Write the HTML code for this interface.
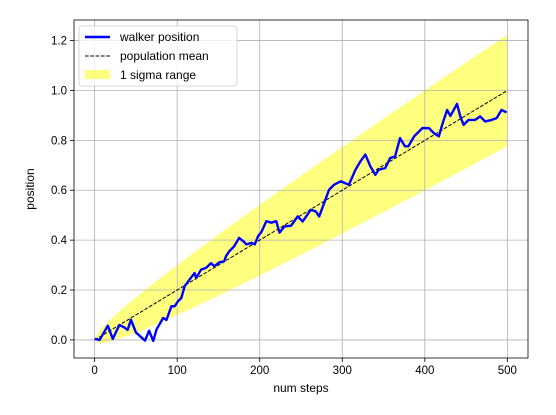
<!DOCTYPE html>
<html><head><meta charset="utf-8"><style>
html,body{margin:0;padding:0;background:#fff;}
svg{display:block;font-family:"Liberation Sans","DejaVu Sans",sans-serif;}
</style></head><body>
<svg id="chart" width="556" height="415" viewBox="0 0 556 415" xmlns="http://www.w3.org/2000/svg"></svg>
<script>
const stepsX = [0,6,16,22,30,36,40,44,50,61,66,71,75,83,87,93,97,101,105,109,115,121,123,129,135,141,145,151,157,159,163,169,175,180,184,190,194,198,202,208,214,220,224,230,238,246,252,262,268,272,278,284,290,298,308,316,322,328,334,340,344,352,358,364,370,376,380,387,391,397,405,411,417,421,427,431,439,443,447,453,461,467,473,481,487,493,499];
const walkerY = [0.004,0,0.057,0.004,0.06,0.05,0.04,0.081,0.03,-0.003,0.037,-0.004,0.042,0.088,0.08,0.135,0.135,0.155,0.168,0.215,0.242,0.268,0.248,0.282,0.289,0.308,0.295,0.311,0.315,0.335,0.355,0.375,0.409,0.396,0.383,0.389,0.383,0.416,0.432,0.476,0.47,0.476,0.43,0.455,0.458,0.495,0.475,0.522,0.515,0.495,0.548,0.602,0.622,0.636,0.622,0.682,0.716,0.743,0.696,0.662,0.682,0.689,0.729,0.736,0.809,0.776,0.776,0.816,0.829,0.849,0.849,0.829,0.816,0.862,0.922,0.898,0.946,0.896,0.862,0.882,0.882,0.896,0.876,0.882,0.889,0.922,0.912];
const stepMean = [0.002];
const stepSigma = [0.01];
const numSteps = [500];
const xTicks = [0,100,200,300,400,500];
const yTicks = [0.0,0.2,0.4,0.6,0.8,1.0,1.2];
const yTickLabels = ["0.0","0.2","0.4","0.6","0.8","1.0","1.2"];

const svg = document.getElementById('chart');
const NS = 'http://www.w3.org/2000/svg';
const L=74, T=20, R=528, B=358;
const xMin=-25, xMax=525, yMin=-0.0725, yMax=1.2825;
const sx = v => L + (v - xMin) / (xMax - xMin) * (R - L);
const sy = v => B - (v - yMin) / (yMax - yMin) * (B - T);
function mk(tag, attrs, parent){const e=document.createElementNS(NS,tag);for(const k in attrs)e.setAttribute(k,attrs[k]);(parent||svg).appendChild(e);return e;}

const N = numSteps[0];
let up=[], lo=[];
for(let n=0;n<=N;n+=5){const m=n*stepMean[0], s=stepSigma[0]*Math.sqrt(n);up.push(sx(n)+','+sy(m+s));lo.unshift(sx(n)+','+sy(m-s));}
const band = mk('polygon',{points:up.concat(lo).join(' '),fill:'#ffff00','fill-opacity':'0.5',stroke:'none'});



xTicks.forEach(t=>{const g=mk('line',{x1:sx(t),x2:sx(t),y1:T,y2:B,stroke:'#b0b0b0','stroke-width':0.8});

});
yTicks.forEach(t=>{const g=mk('line',{x1:L,x2:R,y1:sy(t),y2:sy(t),stroke:'#b0b0b0','stroke-width':0.8});

});

const mean = mk('line',{x1:sx(0),y1:sy(0),x2:sx(N),y2:sy(N*stepMean[0]),stroke:'#000','stroke-width':1,'stroke-dasharray':'3.7,1.6'});



const wp = mk('polyline',{points:stepsX.map((x,i)=>sx(x)+','+sy(walkerY[i])).join(' '),fill:'none',stroke:'#0000ff','stroke-width':2.4,'stroke-linejoin':'round'});



const fr = mk('rect',{x:L,y:T,width:R-L,height:B-T,fill:'none',stroke:'#000','stroke-width':0.8});



xTicks.forEach(t=>{mk('line',{x1:sx(t),x2:sx(t),y1:B,y2:B+4,stroke:'#000','stroke-width':0.8});
const tx=mk('text',{x:sx(t),y:B+16,'text-anchor':'middle','font-size':11.5,fill:'#000'});tx.textContent=t;

});
yTicks.forEach((t,i)=>{mk('line',{x1:L-4,x2:L,y1:sy(t),y2:sy(t),stroke:'#000','stroke-width':0.8});
const tx=mk('text',{x:L-7,y:sy(t)+4,'text-anchor':'end','font-size':11.5,fill:'#000'});tx.textContent=yTickLabels[i];

});

const xt=mk('text',{x:(L+R)/2,y:392,'text-anchor':'middle','font-size':12,fill:'#000'});xt.textContent='num steps';


const yt=mk('text',{x:0,y:0,transform:'translate(34,'+((T+B)/2)+') rotate(-90)','text-anchor':'middle','font-size':12,fill:'#000'});yt.textContent='position';



const lg = mk('g',{});


mk('rect',{x:79,y:26,width:158,height:60,rx:3,fill:'#fff','fill-opacity':0.8,stroke:'#ccc','stroke-width':0.8},lg);
mk('line',{x1:85,x2:110,y1:37,y2:37,stroke:'#0000ff','stroke-width':2.4},lg);
mk('line',{x1:85,x2:110,y1:56,y2:56,stroke:'#000','stroke-width':1,'stroke-dasharray':'3.7,1.6'},lg);
mk('rect',{x:85,y:70,width:25,height:9,fill:'#ffff00','fill-opacity':0.5},lg);
[['walker position',41],['population mean',60],['1 sigma range',79]].forEach(([s,y])=>{
const t=mk('text',{x:120,y:y,'font-size':12,fill:'#000'},lg);t.textContent=s;

});
</script>
</body></html>
